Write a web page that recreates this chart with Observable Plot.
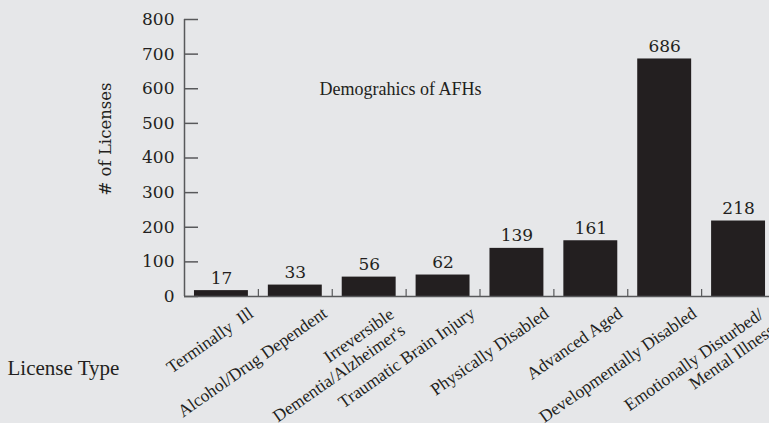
<!DOCTYPE html>
<html><head><meta charset="utf-8">
<script src="https://cdn.jsdelivr.net/npm/d3@7"></script>
<script src="https://cdn.jsdelivr.net/npm/@observablehq/plot@0.6"></script>
<style>
html,body{margin:0;padding:0;background:#e6e7e9;overflow:hidden;}
svg text{white-space:pre;}
</style></head><body><div id="chart"></div>
<script>
const categories = ["Terminally  Ill", "Alcohol/Drug Dependent", "Irreversible\nDementia/Alzheimer's", "Traumatic Brain Injury", "Physically Disabled", "Advanced Aged", "Developmentally Disabled", "Emotionally Disturbed/\nMental Illness"];
const counts = [17, 33, 56, 62, 139, 161, 686, 218];
const yTicks = [0, 100, 200, 300, 400, 500, 600, 700, 800];
const title = "Demograhics of AFHs";
const yLabel = "# of Licenses";
const xLabel = "License Type";
const data = categories.map((type, i) => ({type, count: counts[i]}));
const singleLine = data.filter(d => !d.type.includes("\n"));
const multiLine = data.filter(d => d.type.includes("\n"));

const W = 769, H = 423, mL = 184, mT = 19, mB = 127, mR = 0;
const xRange = [184, 775];
const step = (xRange[1] - xRange[0]) / categories.length;
const ink = "#231f20", axisColor = "#58595b";
const serif = "'Liberation Serif', 'Times New Roman', serif";
const wide = "'DejaVu Serif', serif";
const labelStyle = {rotate: -35, textAnchor: "end", lineAnchor: "top", fontFamily: serif, fontSize: 17.5, lineHeight: 1.12, fill: ink};

const plot = Plot.plot({
  width: W, height: H, marginLeft: mL, marginTop: mT, marginBottom: mB, marginRight: mR,
  style: {background: "#e6e7e9", overflow: "visible"},
  x: {domain: categories, range: xRange, paddingInner: 0.27, paddingOuter: 0.135, round: false, axis: null},
  y: {domain: [0, 800], axis: null},
  marks: [
    Plot.barY(data, {x: "type", y: "count", fill: ink}),
    Plot.ruleY([0], {stroke: axisColor, strokeWidth: 1.5}),
    Plot.ruleX([categories[0]], {x: d => d, dx: -step / 2, stroke: axisColor, strokeWidth: 1.5}),
    Plot.ruleY(yTicks, {y: d => d, insetRight: W - mL - mR - 14, stroke: axisColor, strokeWidth: 1.5}),
    Plot.ruleX(categories.slice(0, -1), {x: d => d, dx: step / 2, insetTop: (H - mB - mT) - 7, stroke: axisColor, strokeWidth: 1.2}),
    Plot.text(yTicks, {y: d => d, text: d => String(d), frameAnchor: "left", dx: -10, textAnchor: "end", fontFamily: wide, fontSize: 17, fill: ink}),
    Plot.text(data, {x: "type", y: "count", text: d => String(d.count), dy: -7, lineAnchor: "bottom", fontFamily: wide, fontSize: 17, fill: ink}),
    Plot.text(singleLine, {x: "type", y: () => 0, text: "type", dx: 25, dy: 8, ...labelStyle}),
    Plot.text(multiLine, {x: "type", y: () => 0, text: "type", dx: 18, dy: 9, ...labelStyle}),
    Plot.text([yLabel], {text: d => d, frameAnchor: "left", rotate: -90, textAnchor: "middle", dx: -79, dy: -19, fontFamily: wide, fontSize: 16.5, fill: ink}),
    Plot.text([title], {text: d => d, frameAnchor: "top-left", dx: 135, dy: 75, textAnchor: "start", lineAnchor: "bottom", fontFamily: serif, fontSize: 18, fill: ink}),
    Plot.text([xLabel], {text: d => d, frameAnchor: "bottom-left", dx: -177, dy: 78, textAnchor: "start", lineAnchor: "bottom", fontFamily: serif, fontSize: 21, fill: ink})
  ]
});
document.getElementById("chart").appendChild(plot);
</script></body></html>
